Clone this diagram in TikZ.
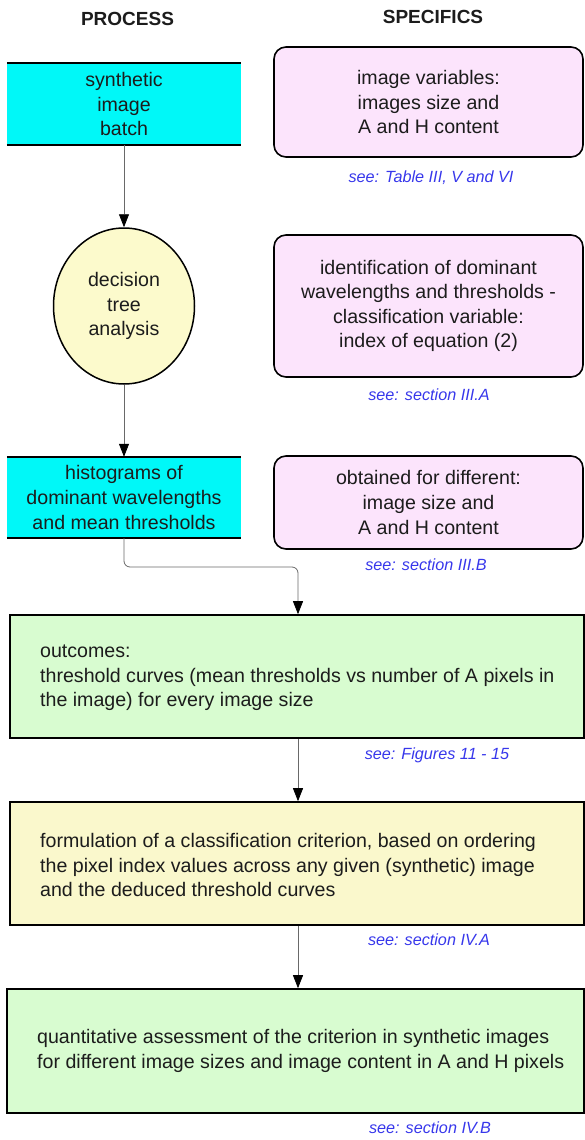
\documentclass[tikz,border=0pt]{standalone}
\usepackage{fontspec}
\setmainfont{Liberation Sans}
\usetikzlibrary{arrows.meta,shapes.geometric}
\definecolor{proccyan}{RGB}{0,248,248}
\definecolor{specpink}{RGB}{252,228,252}
\definecolor{treeyellow}{RGB}{252,250,204}
\definecolor{outgreen}{RGB}{216,252,208}
\definecolor{crityellow}{RGB}{250,248,204}
\definecolor{seeblue}{RGB}{55,55,235}
\definecolor{textgray}{RGB}{28,28,28}
\definecolor{arrowgray}{RGB}{105,105,105}
\newcommand{\bodyfont}{\fontsize{19.6}{24.6}\selectfont}
\begin{document}
\begin{tikzpicture}
[x=1pt,y=-1pt,
  procdecorate/.style={shape=rectangle,fill=proccyan,minimum width=234pt,
    inner sep=0pt,align=center,text=textgray,font=\bodyfont},%
  specdecorate/.style={shape=rectangle,draw,line width=1.6pt,fill=specpink,
    rounded corners=12pt,minimum width=309pt,inner sep=0pt,align=center,
    text=textgray,font=\bodyfont},%
  widedecorate/.style={shape=rectangle,draw,line width=1.6pt,inner sep=0pt},%
  widetext/.style={anchor=west,inner sep=0pt,align=left,text=textgray,font=\bodyfont},%
  seedecorate/.style={text=seeblue,font=\fontsize{16.2}{19}\selectfont\itshape},%
  headdecorate/.style={font=\fontsize{19}{22}\selectfont\bfseries,text=textgray},%
  linedecorate/.style={draw=arrowgray,line width=0.8pt,
    -{Triangle[length=13pt,width=10pt,color=black]}}]
\useasboundingbox (0,0) rectangle (585,1140);
%% column titles
\node (process) at (127.5,19) [headdecorate] {PROCESS};
\node (specifics) at (433,17) [headdecorate] {SPECIFICS};
%% process column
\node (batch) at (124,104) [procdecorate,minimum height=82pt]
  {synthetic\\image\\batch};
\node (tree) at (124,306) [shape=ellipse,draw,line width=1.5pt,fill=treeyellow,
  minimum width=141pt,minimum height=156pt,inner sep=0pt,align=center,
  text=textgray,font=\bodyfont] {decision\\tree\\analysis};
\node (hist) at (124,497.5) [procdecorate,minimum height=81pt]
  {histograms of\\dominant wavelengths\\and mean thresholds};
\foreach \boxname in {batch,hist}
{
  \draw[line width=1.8pt] (\boxname.north west) -- (\boxname.north east);
  \draw[line width=1.8pt] (\boxname.south west) -- (\boxname.south east);
}
%% specifics column
\node (vars) at (428.5,102) [specdecorate,minimum height=110pt]
  {image variables:\\images size and\\A and H content};
\node (ident) at (428.5,306) [specdecorate,minimum height=142pt]
  {identification of dominant\\wavelengths and thresholds -\\classification variable:\\index of equation (2)};
\node (obtained) at (428.5,502.5) [specdecorate,minimum height=93pt]
  {obtained for different:\\image size and\\A and H content};
%% full width boxes
\node (outcomesbox) at (297,676.5) [widedecorate,fill=outgreen,
  minimum width=574pt,minimum height=123pt] {};
\node (criterionbox) at (297,863.5) [widedecorate,fill=crityellow,
  minimum width=574pt,minimum height=123pt] {};
\node (assessbox) at (295.5,1051) [widedecorate,fill=outgreen,
  minimum width=577pt,minimum height=124pt] {};
\node (outcomes) at (40,678) [widetext]
  {outcomes:\\threshold curves (mean thresholds vs number of A pixels in\\the image) for every image size};
\node (criterion) at (40,865) [widetext]
  {formulation of a classification criterion, based on ordering\\the pixel index values across any given (synthetic) image\\and the deduced threshold curves};
\node (assess) at (37,1051) [widetext]
  {quantitative assessment of the criterion in synthetic images\\for different image sizes and image content in A and H pixels};
%% references
\foreach \refname/\x/\y/\reftext in {
  see1/431/178/{see: Table III, V and VI},
  see2/429/395/{see: section III.A},
  see3/426/565/{see: section III.B},
  see4/437/755/{see: Figures 11 - 15},
  see5/429/940/{see: section IV.A},
  see6/430/1128/{see: section IV.B}}
{
  \node (\refname) at (\x,\y) [seedecorate] {\reftext};
}
%% connectors
\path
\foreach \startnode/\endnode in {batch/tree, tree/hist}
{
  (\startnode) edge[linedecorate] (\endnode)
};
\coordinate (bend) at (298,567);
\draw[linedecorate,rounded corners=6pt] (hist.south) |- (bend) -- (bend |- outcomesbox.north);
\draw[linedecorate] (outcomesbox.south -| bend) -- (bend |- criterionbox.north);
\draw[linedecorate] (criterionbox.south -| bend) -- (bend |- assessbox.north);
\end{tikzpicture}
\end{document}
